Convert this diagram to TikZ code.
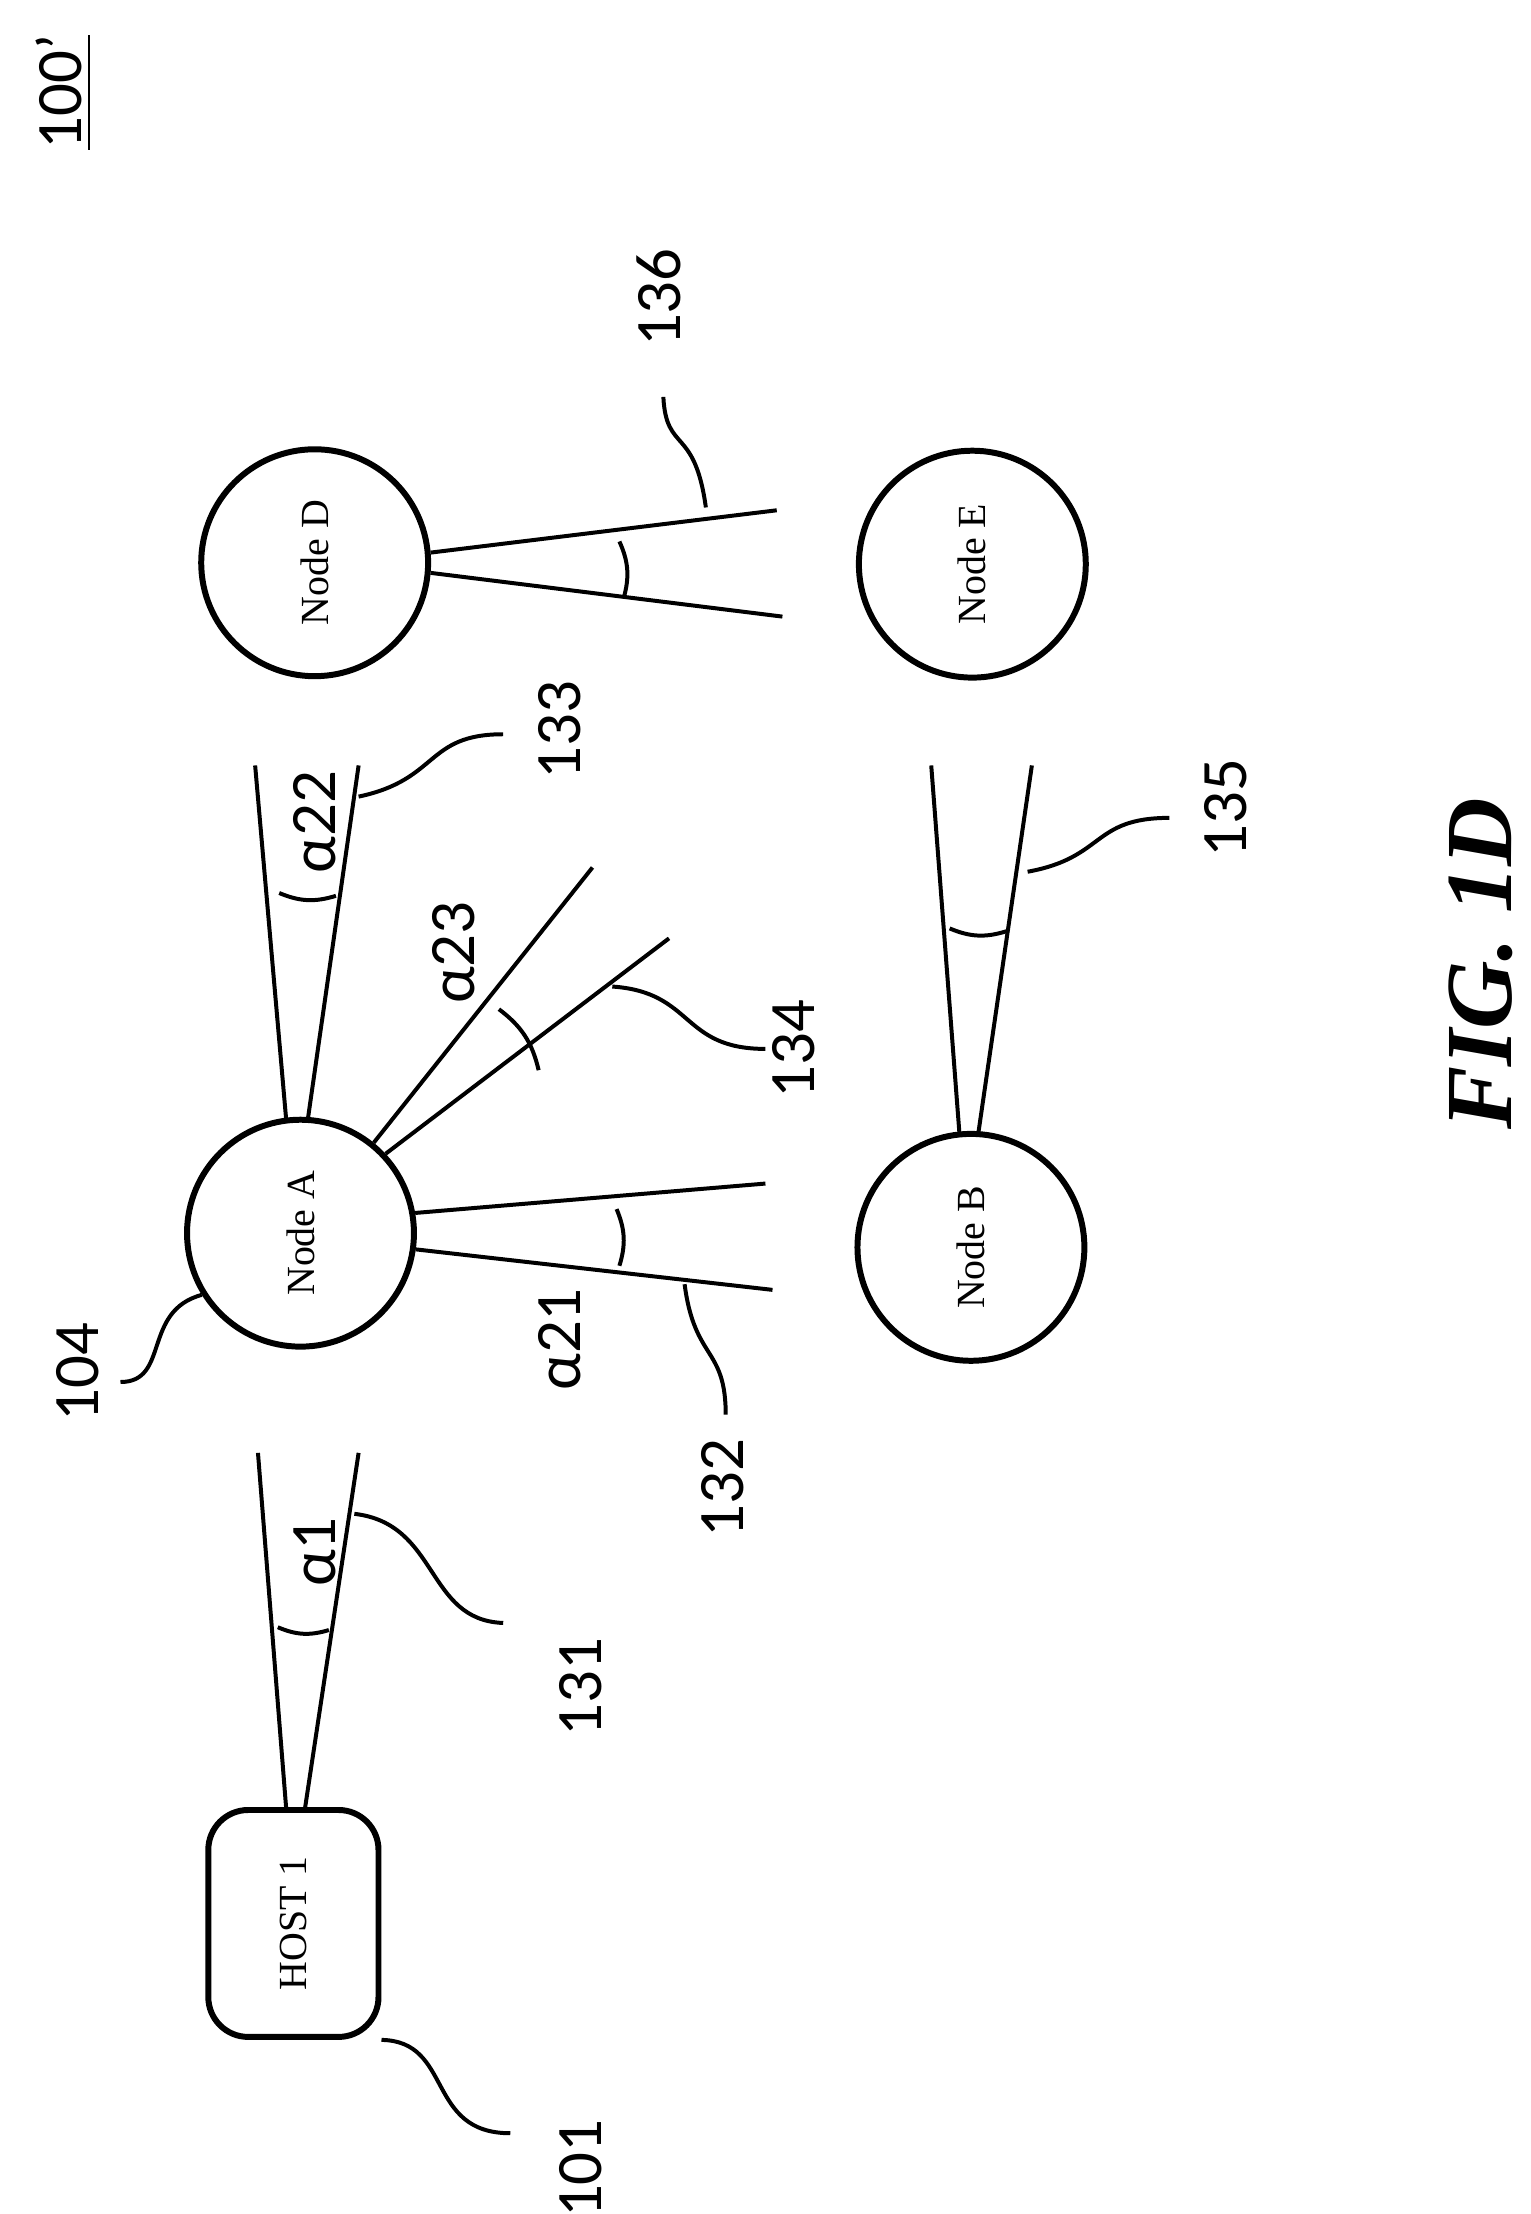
\documentclass[tikz,border=0pt]{standalone}
\usepackage{fontspec}
\setsansfont{Carlito}
\setmainfont{Liberation Serif}
\tikzstyle{station}=[circle,draw=black,line width=1.2pt,minimum size=1.6cm,inner sep=0pt,font=\footnotesize]
\tikzstyle{host}=[rectangle,rounded corners=8pt,draw=black,line width=1.2pt,minimum width=1.2cm,minimum height=1.6cm,font=\footnotesize]
\tikzstyle{ref}=[rotate=90,font=\sffamily\fontsize{13}{13}\selectfont]
\begin{document}
\begin{tikzpicture}[x=0.01cm,y=-0.01cm,line width=0.8pt]
\useasboundingbox (0,0) rectangle (1080,1562);
\node(host)[host] at (207,1357){\rotatebox{90}{HOST 1}};
\node(a)[station] at (212,870){\rotatebox{90}{Node A}};
\node(b)[station] at (685,880){\rotatebox{90}{Node B}};
\node(d)[station] at (222,397){\rotatebox{90}{Node D}};
\node(e)[station] at (686,398){\rotatebox{90}{Node E}};
% beams
\coordinate(h1) at (182,1025); \coordinate(h2) at (253,1025);
\draw(202,1277)--(h1); \draw(215,1277)--(h2);
\draw(196,1148) to[bend right=20] (232,1150);
\coordinate(a1) at (540,835); \coordinate(a2) at (545,910);
\draw(a.10)--(a1); \draw(a.-8)--(a2);
\draw(435,853) to[bend left=20] (437,893);
\coordinate(a3) at (180,540); \coordinate(a4) at (253,540);
\draw(202,791)--(a3); \draw(217,791)--(a4);
\draw(197,630) to[bend right=20] (237,632);
\coordinate(a5) at (418,612); \coordinate(a6) at (472,662);
\draw(a.51)--(a5); \draw(a.43)--(a6);
\draw(352,712) to[bend left=20] (380,755);
\coordinate(b1) at (657,540); \coordinate(b2) at (728,540);
\draw(677,801)--(b1); \draw(690,801)--(b2);
\draw(670,655) to[bend right=20] (710,657);
\coordinate(d1) at (548,360); \coordinate(d2) at (552,435);
\draw(d.5)--(d1); \draw(d.-5)--(d2);
\draw(437,382) to[bend left=20] (440,422);
% leaders
\draw(host.south east) .. controls (320,1440) and (300,1505) .. (360,1505);
\draw(a.-148) .. controls (100,925) and (120,975) .. (85,975);
\draw(250,1068) .. controls (310,1075) and (300,1143) .. (355,1145);
\draw(483,906) .. controls (490,960) and (512,950) .. (512,998);
\draw(253,562) .. controls (310,550) and (300,518) .. (355,518);
\draw(432,696) .. controls (490,700) and (480,740) .. (540,740);
\draw(725,615) .. controls (780,605) and (770,577) .. (825,577);
\draw(498,358) .. controls (490,300) and (470,320) .. (468,280);
% labels
\node(l100)[ref] at (45,65){\underline{100’}};
\node(l101)[ref] at (410,1530){101};
\node(l104)[ref] at (55,968){104};
\node(l131)[ref] at (410,1190){131};
\node(l132)[ref] at (510,1050){132};
\node(l133)[ref] at (395,515){133};
\node(l134)[ref] at (560,740){134};
\node(l135)[ref] at (865,570){135};
\node(l136)[ref] at (465,210){136};
\node(g1)[ref] at (222,1095){α1};
\node(g21)[ref] at (395,945){α21};
\node(g22)[ref] at (222,580){α22};
\node(g23)[ref] at (320,672){α23};
\node(fig)[rotate=90,font=\fontsize{19}{19}\selectfont\bfseries\itshape] at (1045,680){FIG. 1D};
\end{tikzpicture}
\end{document}
